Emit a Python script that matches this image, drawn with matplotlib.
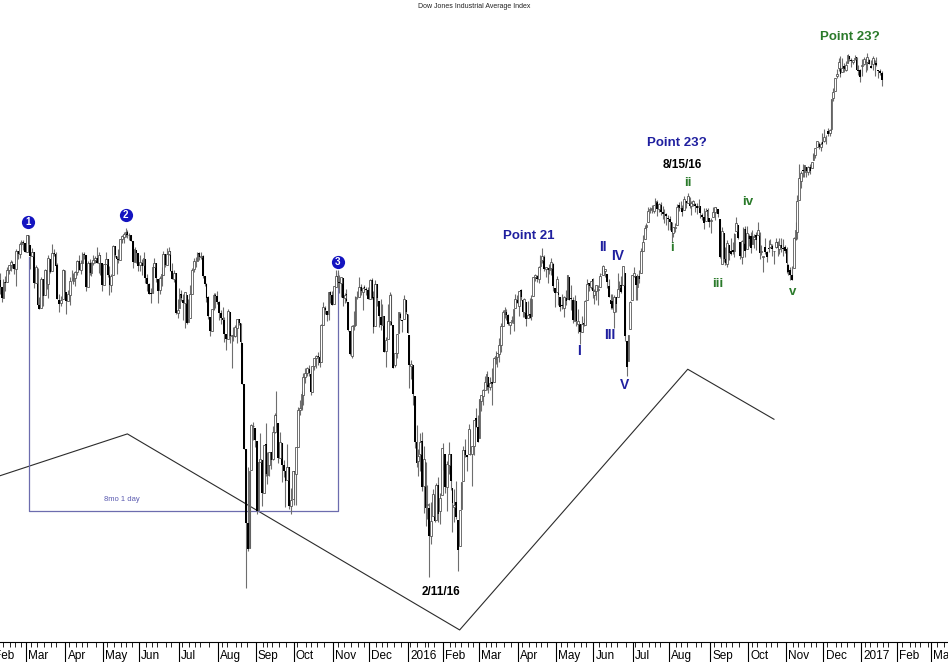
import numpy as np
import pandas as pd
import matplotlib
matplotlib.use("Agg")
import matplotlib.pyplot as plt
from matplotlib.transforms import blended_transform_factory

plt.rcParams['font.family'] = ['Liberation Sans', 'DejaVu Sans']

# NYSE holidays inside the window (trading-day axis)
holidays = ["2015-02-16", "2015-04-03", "2015-05-25", "2015-07-03", "2015-09-07",
            "2015-11-26", "2015-12-25", "2016-01-01", "2016-01-18", "2016-02-15",
            "2016-03-25", "2016-05-30", "2016-07-04", "2016-09-05", "2016-11-24",
            "2016-12-26", "2017-01-02", "2017-01-16", "2017-02-20"]
first_day = "2015-02-05"

# daily DJIA bars, one line per month (Feb 2015 -> Jan 2017)
opens = [
    17674, 17884, 17820, 17731, 17867, 17865, 17973, 18018, 18046, 18027, 17987, 18139, 18114, 18209, 18225, 18215,
    18134, 18282, 18200, 18098, 18135, 17857, 17992, 17664, 17637, 17894, 17757, 17973, 17849, 18072, 17962, 18127, 18113, 18015, 17714, 17680, 17717, 17970,
    17778, 17698, 17757, 17880, 17877, 17902, 17958, 18056, 17975, 18039, 18112, 18104, 17828, 18034, 17951, 18036, 18059, 18081, 18037, 18108, 18033,
    17841, 18024, 18067, 17931, 17838, 17928, 18189, 18101, 18068, 18062, 18253, 18268, 18300, 18312, 18283, 18282, 18229, 18045, 18153, 18126,
    18017, 18037, 18016, 18075, 17906, 17847, 17767, 17768, 18002, 18037, 17893, 17797, 17904, 17932, 18114, 18017, 18118, 18145, 17969, 17890, 17944, 17597,
    17638, 17763, 17711, 17683, 17756, 17519, 17551, 17763, 17979, 18052, 18055, 18121, 18087, 18098, 17919, 17852, 17733, 17565, 17442, 17634, 17750, 17745,
    17692, 17597, 17556, 17540, 17416, 17374, 17610, 17401, 17403, 17401, 17472, 17545, 17509, 17339, 16991, 16459, 15872, 15676, 16290, 16643, 16633,
    16527, 15969, 16353, 16370, 16107, 16495, 16252, 16326, 16433, 16375, 16600, 16738, 16672, 16388, 16506, 16330, 16278, 16207, 16312, 16003, 16058,
    16278, 16259, 16478, 16776, 16791, 16905, 17053, 17085, 17121, 17081, 16930, 17142, 17209, 17226, 17222, 17174, 17496, 17644, 17615, 17587, 17776, 17756,
    17673, 17828, 17919, 17868, 17861, 17903, 17728, 17764, 17697, 17443, 17229, 17486, 17490, 17739, 17738, 17823, 17779, 17820, 17806, 17802,
    17719, 17889, 17734, 17484, 17846, 17703, 17567, 17494, 17570, 17274, 17371, 17530, 17749, 17496, 17154, 17254, 17427, 17593, 17535, 17548, 17711, 17590,
    17405, 17147, 17154, 16889, 16519, 16358, 16419, 16526, 16159, 16354, 16009, 15989, 15768, 15921, 16086, 15893, 16168, 15960, 16090,
    16454, 16420, 16157, 16331, 16417, 16148, 15994, 16035, 15897, 15691, 15978, 16203, 16453, 16407, 16417, 16610, 16418, 16485, 16712, 16634,
    16545, 16851, 16896, 16945, 16991, 17050, 16969, 17006, 17014, 17207, 17217, 17249, 17321, 17481, 17590, 17607, 17578, 17491, 17526, 17512, 17638, 17712,
    17661, 17799, 17712, 17606, 17690, 17555, 17586, 17570, 17741, 17912, 17925, 17890, 18010, 18058, 18093, 17984, 17990, 17976, 17990, 18023, 17813,
    17783, 17870, 17736, 17665, 17641, 17726, 17721, 17911, 17722, 17710, 17531, 17701, 17501, 17501, 17437, 17507, 17498, 17712, 17859, 17826, 17891,
    17754, 17789, 17799, 17825, 17936, 17931, 17969, 17938, 17830, 17711, 17703, 17602, 17733, 17736, 17827, 17844, 17844, 17946, 17355, 17190, 17456, 17712,
    17924, 17924, 17825, 17924, 17949, 18147, 18253, 18356, 18407, 18513, 18517, 18503, 18582, 18582, 18524, 18555, 18491, 18473, 18472, 18441,
    18435, 18402, 18303, 18351, 18375, 18555, 18532, 18529, 18514, 18597, 18580, 18627, 18545, 18567, 18563, 18549, 18540, 18548, 18467, 18447, 18412, 18514, 18440,
    18411, 18452, 18496, 18534, 18519, 18434, 18029, 18302, 18075, 18023, 18197, 18145, 18148, 18142, 18319, 18377, 18223, 18087, 18215, 18337, 18162,
    18279, 18273, 18203, 18253, 18289, 18282, 18308, 18132, 18088, 18177, 18132, 18172, 18179, 18190, 18140, 18181, 18222, 18158, 18200, 18169, 18177,
    18158, 18018, 17978, 17929, 17995, 18252, 18317, 18604, 18781, 18876, 18858, 18909, 18866, 18910, 18898, 18970, 19018, 19093, 19122, 19100, 19142,
    19149, 19173, 19244, 19225, 19263, 19558, 19631, 19770, 19852, 19876, 19811, 19874, 19836, 19900, 19967, 19934, 19909, 19944, 19956, 19829, 19834,
    19872, 19891, 19924, 19907, 19931, 19876, 19887, 19926, 19905, 19837, 19826, 19806,
]
highs = [
    17899, 17951, 17820, 17890, 17923, 17996, 18020, 18058, 18054, 18027, 18162, 18140, 18221, 18244, 18238, 18215,
    18289, 18282, 18200, 18168, 18135, 18019, 17992, 17736, 17911, 17894, 17986, 17973, 18105, 18072, 18203, 18162, 18134, 18035, 17759, 17745, 17987, 17970,
    17778, 17796, 17915, 17976, 17949, 17966, 18058, 18104, 18060, 18137, 18136, 18104, 18054, 18070, 18046, 18111, 18097, 18175, 18136, 18108, 18033,
    18031, 18133, 18067, 18008, 17937, 18200, 18189, 18101, 18162, 18254, 18287, 18310, 18351, 18327, 18307, 18282, 18229, 18176, 18153, 18126,
    18103, 18072, 18130, 18075, 17937, 17859, 17816, 18026, 18081, 18037, 17893, 17917, 18004, 18144, 18114, 18172, 18175, 18146, 18035, 17978, 17944, 17716,
    17813, 17799, 17759, 17781, 17756, 17720, 17843, 17995, 18080, 18090, 18134, 18137, 18137, 18106, 17920, 17858, 17742, 17565, 17633, 17770, 17775, 17788,
    17700, 17622, 17650, 17562, 17416, 17631, 17610, 17402, 17479, 17493, 17547, 17549, 17509, 17339, 16991, 16459, 16312, 16285, 16666, 16678, 16633,
    16527, 16352, 16587, 16370, 16493, 16668, 16436, 16434, 16433, 16642, 16755, 16933, 16672, 16598, 16506, 16372, 16278, 16495, 16312, 16143, 16285,
    16278, 16473, 16800, 16861, 16935, 17082, 17126, 17140, 17154, 17113, 17142, 17216, 17237, 17262, 17278, 17504, 17689, 17660, 17618, 17780, 17786, 17790,
    17836, 17978, 17977, 17933, 17910, 17904, 17775, 17809, 17697, 17443, 17490, 17611, 17741, 17791, 17914, 17848, 17828, 17838, 17827, 17824,
    17895, 17901, 17786, 17885, 17846, 17703, 17721, 17676, 17570, 17390, 17675, 17779, 17763, 17496, 17254, 17419, 17607, 17606, 17536, 17750, 17714, 17590,
    17405, 17196, 17154, 16889, 16651, 16459, 16592, 16593, 16482, 16354, 16171, 16025, 16038, 16136, 16086, 16185, 16235, 16102, 16466,
    16510, 16420, 16358, 16511, 16417, 16148, 16136, 16201, 15897, 15974, 16196, 16484, 16541, 16407, 16664, 16610, 16485, 16698, 16795, 16735,
    16865, 16900, 16949, 17063, 17099, 17050, 17048, 17130, 17220, 17275, 17251, 17379, 17513, 17621, 17650, 17628, 17588, 17517, 17569, 17634, 17767, 17755,
    17793, 17807, 17712, 17725, 17690, 17704, 17731, 17751, 17909, 17937, 17934, 18009, 18103, 18168, 18109, 18004, 17990, 18029, 18084, 18034, 17813,
    17925, 17870, 17736, 17765, 17746, 17796, 17928, 17911, 17843, 17736, 17754, 17701, 17636, 17501, 17571, 17550, 17714, 17891, 17860, 17876, 17899,
    17809, 17839, 17838, 17949, 18003, 18016, 17986, 17938, 17893, 17762, 17762, 17754, 17733, 17946, 17877, 17921, 18011, 17946, 17355, 17409, 17704, 17930,
    18003, 17924, 17935, 17975, 18166, 18283, 18372, 18391, 18537, 18537, 18561, 18562, 18622, 18606, 18580, 18584, 18546, 18526, 18486, 18467,
    18459, 18402, 18356, 18396, 18571, 18587, 18590, 18556, 18638, 18597, 18668, 18627, 18594, 18602, 18573, 18575, 18610, 18548, 18486, 18531, 18528, 18534, 18440,
    18436, 18542, 18538, 18536, 18519, 18434, 18358, 18302, 18176, 18240, 18197, 18259, 18223, 18300, 18450, 18377, 18223, 18240, 18356, 18365, 18365,
    18297, 18313, 18328, 18291, 18313, 18399, 18313, 18193, 18100, 18261, 18139, 18245, 18249, 18208, 18146, 18258, 18235, 18256, 18259, 18254, 18195,
    18178, 18023, 18001, 18010, 18268, 18400, 18650, 18935, 18874, 18934, 18925, 18909, 18919, 18934, 18957, 19043, 19084, 19153, 19138, 19142, 19225,
    19262, 19209, 19274, 19262, 19550, 19660, 19757, 19843, 19953, 19967, 19953, 19903, 19917, 19987, 19967, 19953, 19934, 19981, 19964, 19879, 19843,
    19938, 19956, 19948, 19999, 19943, 19933, 19973, 19929, 19958, 19837, 19846, 19823,
]
lows = [
    17674, 17764, 17694, 17731, 17791, 17865, 17937, 17966, 17993, 17940, 17837, 18067, 18082, 18184, 18155, 18133,
    18134, 18107, 17986, 18098, 17819, 17857, 17662, 17628, 17637, 17660, 17757, 17803, 17730, 17943, 17962, 18101, 18011, 17718, 17603, 17656, 17717, 17774,
    17585, 17698, 17670, 17875, 17848, 17833, 17931, 17977, 17940, 18039, 18071, 17786, 17828, 17931, 17918, 18017, 18037, 18035, 17945, 17930, 17789,
    17841, 18024, 17910, 17758, 17784, 17928, 18092, 17940, 18033, 18062, 18218, 18215, 18270, 18259, 18239, 18230, 17990, 18045, 18039, 17966,
    17963, 17927, 18016, 17863, 17787, 17764, 17688, 17768, 18002, 17868, 17687, 17766, 17831, 17932, 17997, 18017, 18106, 17967, 17890, 17867, 17592, 17553,
    17638, 17701, 17534, 17465, 17502, 17519, 17551, 17763, 17954, 18000, 18055, 18058, 18068, 17904, 17833, 17697, 17547, 17400, 17442, 17620, 17640, 17678,
    17535, 17504, 17492, 17350, 17280, 17374, 17340, 17125, 17359, 17392, 17337, 17494, 17256, 16990, 16459, 15370, 15651, 15676, 16290, 16534, 16474,
    15942, 15969, 16351, 16003, 16107, 16238, 16176, 16244, 16294, 16372, 16590, 16639, 16343, 16388, 16191, 16235, 15994, 16207, 15979, 15942, 16058,
    16013, 16013, 16478, 16740, 16780, 16817, 17003, 17057, 17063, 16904, 16930, 17110, 17125, 17152, 17140, 17174, 17496, 17591, 17527, 17538, 17683, 17663,
    17673, 17828, 17818, 17773, 17734, 17660, 17681, 17696, 17446, 17238, 17210, 17448, 17490, 17716, 17738, 17757, 17624, 17785, 17753, 17718,
    17719, 17719, 17424, 17484, 17658, 17478, 17449, 17494, 17264, 17140, 17371, 17493, 17494, 17128, 17139, 17208, 17427, 17536, 17437, 17548, 17588, 17421,
    16957, 17038, 16817, 16463, 16314, 16237, 16280, 16119, 15945, 15843, 15900, 15451, 15704, 15921, 15881, 15893, 15878, 15863, 16090,
    16289, 16108, 15961, 16256, 16129, 15803, 15881, 15899, 15503, 15691, 15978, 16203, 16394, 16285, 16417, 16408, 16165, 16408, 16639, 16511,
    16545, 16766, 16820, 16943, 16940, 16921, 16947, 16821, 17014, 17159, 17138, 17174, 17262, 17481, 17552, 17533, 17491, 17420, 17510, 17440, 17638, 17685,
    17569, 17709, 17560, 17562, 17484, 17555, 17553, 17537, 17741, 17877, 17868, 17863, 17978, 18032, 17963, 17916, 17860, 17935, 17927, 17793, 17652,
    17783, 17669, 17612, 17632, 17565, 17671, 17721, 17711, 17625, 17515, 17531, 17484, 17422, 17332, 17437, 17486, 17498, 17712, 17787, 17810, 17724,
    17675, 17710, 17663, 17825, 17936, 17931, 17915, 17812, 17733, 17635, 17629, 17471, 17602, 17736, 17799, 17775, 17844, 17356, 17063, 17190, 17456, 17711,
    17916, 17713, 17711, 17858, 17949, 18147, 18253, 18335, 18407, 18483, 18489, 18483, 18558, 18460, 18493, 18464, 18434, 18390, 18376, 18331,
    18329, 18222, 18271, 18310, 18375, 18505, 18524, 18459, 18514, 18531, 18580, 18530, 18469, 18552, 18493, 18477, 18537, 18437, 18423, 18344, 18412, 18419, 18362,
    18301, 18452, 18419, 18485, 18446, 18084, 18029, 18042, 18020, 18000, 18066, 18107, 18114, 18088, 18319, 18250, 18074, 18031, 18163, 18090, 18162,
    18186, 18123, 18203, 18173, 18153, 18282, 18069, 18107, 17959, 18115, 18044, 18132, 18166, 18102, 18031, 18173, 18098, 18113, 18134, 18096, 18125,
    17947, 17931, 17884, 17883, 17995, 18241, 18252, 18604, 18716, 18815, 18820, 18818, 18830, 18842, 18898, 18970, 18993, 19093, 19077, 19055, 19115,
    19143, 19125, 19203, 19200, 19246, 19529, 19631, 19759, 19822, 19762, 19811, 19816, 19820, 19900, 19918, 19863, 19887, 19933, 19834, 19788, 19718,
    19775, 19880, 19811, 19834, 19887, 19849, 19832, 19778, 19874, 19754, 19786, 19678,
]
closes = [
    17885, 17825, 17729, 17868, 17862, 17973, 18019, 18047, 18029, 17986, 18140, 18117, 18209, 18225, 18215, 18133,
    18289, 18204, 18097, 18136, 17857, 17996, 17663, 17636, 17895, 17749, 17977, 17849, 18076, 17959, 18128, 18116, 18012, 17719, 17679, 17713, 17976, 17776,
    17698, 17763, 17881, 17876, 17903, 17958, 18057, 17977, 18037, 18113, 18106, 17826, 18034, 17950, 18039, 18058, 18080, 18038, 18110, 18036, 17841,
    18025, 18070, 17929, 17842, 17925, 18191, 18106, 18068, 18060, 18253, 18273, 18299, 18312, 18286, 18285, 18232, 18042, 18163, 18126, 18011,
    18041, 18012, 18077, 17906, 17849, 17767, 17765, 18001, 18039, 17899, 17792, 17905, 17936, 18116, 18015, 18120, 18144, 17967, 17891, 17947, 17597, 17620,
    17758, 17731, 17684, 17776, 17515, 17548, 17760, 17977, 18054, 18051, 18120, 18086, 18100, 17919, 17851, 17732, 17569, 17441, 17631, 17751, 17746, 17690,
    17599, 17550, 17540, 17419, 17373, 17615, 17403, 17402, 17409, 17477, 17546, 17512, 17349, 16991, 16460, 15871, 15666, 16285, 16655, 16643, 16528,
    15966, 16351, 16375, 16102, 16492, 16253, 16330, 16433, 16371, 16600, 16740, 16675, 16385, 16511, 16331, 16280, 16201, 16315, 16001, 16049, 16285,
    16272, 16473, 16777, 16790, 16912, 17051, 17084, 17131, 17082, 16925, 17142, 17216, 17230, 17218, 17169, 17490, 17647, 17623, 17582, 17780, 17756, 17664,
    17829, 17918, 17867, 17863, 17910, 17731, 17758, 17702, 17449, 17245, 17484, 17490, 17738, 17733, 17824, 17792, 17813, 17813, 17798, 17720,
    17888, 17730, 17478, 17848, 17730, 17568, 17493, 17575, 17265, 17368, 17525, 17750, 17495, 17128, 17252, 17418, 17603, 17552, 17528, 17721, 17604, 17425,
    17149, 17158, 16907, 16515, 16347, 16399, 16516, 16152, 16379, 15988, 16016, 15766, 15883, 16094, 15886, 16167, 15944, 16070, 16466,
    16449, 16153, 16337, 16417, 16205, 16027, 16014, 15915, 15660, 15974, 16196, 16454, 16413, 16392, 16620, 16431, 16485, 16698, 16640, 16517,
    16865, 16900, 16944, 17007, 17074, 16964, 17000, 16995, 17213, 17229, 17251, 17326, 17481, 17602, 17624, 17583, 17503, 17516, 17536, 17634, 17717, 17685,
    17793, 17737, 17604, 17717, 17542, 17577, 17556, 17721, 17909, 17926, 17898, 18004, 18053, 18096, 17983, 18003, 17977, 17991, 18042, 17831, 17774,
    17891, 17750, 17652, 17661, 17740, 17706, 17928, 17711, 17721, 17535, 17711, 17530, 17527, 17436, 17501, 17493, 17706, 17851, 17829, 17873, 17787,
    17790, 17838, 17807, 17920, 17938, 18005, 17985, 17866, 17733, 17675, 17641, 17733, 17675, 17805, 17830, 17780, 18011, 17400, 17140, 17410, 17695, 17930,
    17949, 17841, 17919, 17896, 18147, 18227, 18347, 18372, 18506, 18517, 18534, 18560, 18595, 18518, 18571, 18494, 18473, 18472, 18456, 18432,
    18404, 18314, 18355, 18353, 18544, 18529, 18534, 18496, 18613, 18576, 18636, 18552, 18574, 18597, 18553, 18530, 18548, 18482, 18449, 18395, 18502, 18454, 18401,
    18419, 18492, 18538, 18526, 18480, 18085, 18326, 18067, 18034, 18213, 18124, 18120, 18130, 18294, 18392, 18261, 18095, 18228, 18339, 18144, 18308,
    18253, 18168, 18281, 18269, 18240, 18329, 18129, 18144, 18099, 18138, 18087, 18162, 18203, 18162, 18146, 18223, 18170, 18199, 18170, 18161, 18142,
    18038, 17960, 17931, 17889, 18260, 18333, 18590, 18808, 18848, 18869, 18924, 18868, 18904, 18868, 18957, 19024, 19083, 19153, 19098, 19122, 19124,
    19192, 19171, 19217, 19252, 19549, 19615, 19757, 19797, 19912, 19792, 19853, 19843, 19884, 19975, 19942, 19919, 19934, 19946, 19834, 19819, 19763,
    19882, 19943, 19900, 19964, 19887, 19855, 19954, 19892, 19886, 19826, 19804, 19732,
]

# hand-drawn cycle line and the "8mo 1 day" span
cycle_dates = ["2015-02-05", "2015-05-20", "2016-02-12", "2016-08-15", "2016-10-21"]
cycle_levels = [16238, 16581, 15056, 17117, 16701]
span_dates = ["2015-03-03", "2015-11-04"]
span_levels = [18090, 15964, 17948]

BLUE = '#1f1f9f'
GREEN = '#2a7a2a'

cal = pd.offsets.CustomBusinessDay(holidays=holidays)
days = pd.date_range("2015-02-02", "2017-03-31", freq=cal)
o = np.array(opens, float)
h = np.array(highs, float)
l = np.array(lows, float)
c = np.array(closes, float)
assert len(o) == len(h) == len(l) == len(c)
x0 = days.get_loc(pd.Timestamp(first_day))
x = np.arange(x0, x0 + len(c))
pos = lambda d: days.get_loc(pd.Timestamp(d))

fig = plt.figure(figsize=(9.48, 6.62), dpi=100)
ax = fig.add_axes([0, 20 / 662, 1, 630 / 662])
ax.set_yscale('log')

# candles
ax.vlines(x, np.minimum(l, np.minimum(o, c)), np.maximum(h, np.maximum(o, c)),
          color='#6e6e6e', lw=0.8, zorder=2)
down = c < o
body = np.maximum(np.abs(c - o), 3)
ax.bar(x[down], body[down], bottom=c[down], width=1.0, color='black', lw=0, zorder=3)
ax.bar(x[~down], body[~down], bottom=o[~down], width=1.0, facecolor='white',
       edgecolor='#4a4a4a', lw=0.55, zorder=3)

# cycle zig-zag
ax.plot([pos(d) for d in cycle_dates], cycle_levels, color='#2b2b2b', lw=0.8, zorder=1)

# 8mo 1 day span box
xa, xb = pos(span_dates[0]), pos(span_dates[1])
ax.plot([xa, xa, xb, xb], [span_levels[0], span_levels[1], span_levels[1], span_levels[2]],
        color='#6c6cae', lw=0.9, zorder=1)
ax.text(72, 16051, '8mo 1 day', color='#5a5ab0', fontsize=5.5, ha='center', va='center')

# numbered peaks
for n, (px, py) in enumerate([(19.8, 18401), (74.1, 18470), (192.1, 18045)], start=1):
    ax.plot(px, py, 'o', ms=9.5, color='#1414c0', mec='none', zorder=5)
    ax.text(px, py, str(n), color='white', fontsize=7, fontweight='bold',
            ha='center', va='center', zorder=6)

labels = [
    ('Point 21', 298.6, 18278, BLUE, 9.5),
    ('Point 23?', 381.0, 19134, BLUE, 9.5),
    ('8/15/16', 384.1, 18927, 'black', 8.5),
    ('2/11/16', 249.5, 15342, 'black', 8.5),
    ('I', 326.6, 17274, BLUE, 10),
    ('II', 339.7, 18182, BLUE, 10),
    ('III', 343.7, 17409, BLUE, 10),
    ('IV', 348.0, 18099, BLUE, 10),
    ('V', 351.7, 16985, BLUE, 10),
    ('i', 378.1, 18167, GREEN, 9.5),
    ('ii', 386.8, 18763, GREEN, 9.5),
    ('iii', 403.5, 17851, GREEN, 9.5),
    ('iv', 420.4, 18583, GREEN, 9.5),
    ('v', 445.2, 17778, GREEN, 9.5),
    ('Point 23?', 477.3, 20162, GREEN, 9.5),
]
for txt, px, py, col, fs in labels:
    ax.text(px, py, txt, color=col, fontsize=fs, fontweight='bold',
            ha='center', va='center', zorder=6)

# axis styling
for s in ['left', 'right', 'top']:
    ax.spines[s].set_visible(False)
ax.spines['bottom'].set_linewidth(0.8)
ax.tick_params(axis='y', which='both', left=False, labelleft=False)

yr = np.asarray(days.year)
mo = np.asarray(days.month)
dom = np.asarray(days.day)
mkey = yr * 12 + mo
mstart = np.r_[True, mkey[1:] != mkey[:-1]]
part = np.searchsorted([5, 10, 15, 20, 25], dom, side='right')
pstart = np.r_[False, (part[1:] != part[:-1]) & (mkey[1:] == mkey[:-1])]
ax.set_xticks(np.flatnonzero(mstart) - 0.5)
ax.set_xticks(np.flatnonzero(pstart) - 0.5, minor=True)
ax.tick_params(axis='x', which='major', length=20, width=0.8, labelbottom=False)
ax.tick_params(axis='x', which='minor', length=3.5, width=0.6)

# limits last: set_xticks would otherwise widen the view
ax.set_xlim(4.08, 531.9)
ax.set_ylim(14967, 20407)

tr = blended_transform_factory(ax.transData, ax.transAxes)
for i in np.flatnonzero(mstart):
    lab = str(yr[i]) if mo[i] == 1 else days[i].strftime('%b')
    ax.text(i + 0.7, -14 / 630, lab, transform=tr, ha='left', va='center',
            fontsize=8.5, clip_on=False)

fig.text(0.5, 1 - 6 / 662, 'Dow Jones Industrial Average Index', ha='center',
         va='center', fontsize=5, color='#222222')

fig.savefig('out.png', dpi=100)
